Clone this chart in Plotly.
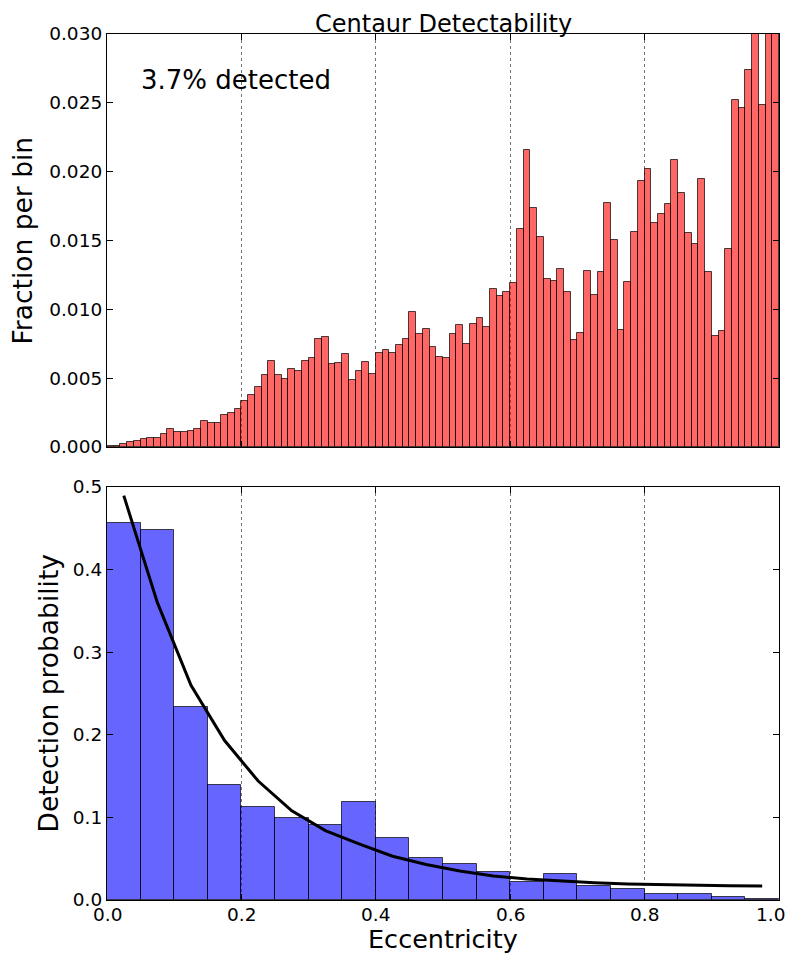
import plotly.graph_objects as go

# ---- data ----
# top histogram: fraction per bin, 100 bins of width 0.01 on [0, 1]
frac_bin_left = [i / 100 for i in range(100)]
frac_values = [
    0.0001, 0.0001, 0.0002, 0.00034, 0.00044, 0.00058, 0.00068, 0.00068, 0.00092, 0.00129,
    0.0011, 0.0011, 0.00119, 0.00129, 0.00187, 0.00172, 0.00172, 0.00233, 0.0025, 0.00274,
    0.00337, 0.0038, 0.00438, 0.00523, 0.00628, 0.00523, 0.00492, 0.00569, 0.0055, 0.00628,
    0.00645, 0.00783, 0.008, 0.006, 0.0061, 0.00678, 0.0049, 0.0055, 0.00618, 0.00533,
    0.00686, 0.00705, 0.00686, 0.0074, 0.00783, 0.00984, 0.00824, 0.0086, 0.00729, 0.00654,
    0.00645, 0.00824, 0.00885, 0.00749, 0.00894, 0.00938, 0.0087, 0.01146, 0.01096, 0.01129,
    0.0119, 0.01585, 0.02154, 0.01733, 0.01525, 0.01221, 0.01207, 0.01292, 0.01129, 0.00776,
    0.00829, 0.01282, 0.01105, 0.01274, 0.01769, 0.01502, 0.00853, 0.012, 0.01561, 0.01932,
    0.02023, 0.01629, 0.01689, 0.01767, 0.02087, 0.01844, 0.01553, 0.01476, 0.01948, 0.01274,
    0.00809, 0.00846, 0.0144, 0.02523, 0.02462, 0.02741, 0.0345, 0.02484, 0.038, 0.042,
]

# bottom histogram: detection probability, 20 bins of width 0.05
prob_bin_left = [i * 0.05 for i in range(20)]
prob_values = [
    0.457, 0.448, 0.2335, 0.1387, 0.1129, 0.0996, 0.0911, 0.119, 0.0754, 0.0512,
    0.044, 0.0335, 0.0222, 0.031, 0.0165, 0.0137, 0.0069, 0.0069, 0.004, 0.001,
]

# smooth fit curve evaluated at bin centres
curve_x = [0.025 + i * 0.05 for i in range(20)]
curve_y = [
    0.4895, 0.36, 0.26, 0.193, 0.144, 0.108, 0.084, 0.068, 0.053, 0.043,
    0.035, 0.029, 0.0254, 0.023, 0.021, 0.0194, 0.0185, 0.0177, 0.0172, 0.0169,
]

# eccentricity tick labels (shared by both panels; shown on the lower one)
x_tick_vals = [0.0, 0.2, 0.4, 0.6, 0.8, 1.0]
x_tick_text = ["0.0", "0.2", "0.4", "0.6", "0.8", "1.0"]

detected_label = "3.7% detected"
title_text = "Centaur Detectability"

# ---- figure ----
FONT = "DejaVu Sans"
TICK_SIZE = 18.5
fig = go.Figure()

fig.add_trace(go.Bar(
    x=[b + 0.005 for b in frac_bin_left], y=frac_values, width=0.01,
    marker=dict(color="rgba(255,0,0,0.6)", line=dict(color="rgba(0,0,0,0.7)", width=1)),
    xaxis="x", yaxis="y", showlegend=False,
))
fig.add_trace(go.Bar(
    x=[b + 0.025 for b in prob_bin_left], y=prob_values, width=0.05,
    marker=dict(color="rgba(0,0,255,0.6)", line=dict(color="rgba(0,0,0,0.7)", width=1)),
    xaxis="x2", yaxis="y2", showlegend=False,
))
fig.add_trace(go.Scatter(
    x=curve_x, y=curve_y, mode="lines",
    line=dict(color="black", width=3),
    xaxis="x2", yaxis="y2", showlegend=False,
))

axis_common = dict(
    showline=True, linecolor="black", linewidth=1.2, mirror="ticks",
    ticks="inside", ticklen=6, tickcolor="black", zeroline=False,
    automargin=False,
    tickfont=dict(family=FONT, size=TICK_SIZE, color="black"),
)

H_PLOT = 866
top_dom = [(413 + 40) / H_PLOT, 1.0]
bot_dom = [0.0, 413 / H_PLOT]

# the page body adds an 8px margin; figure sized so plot areas land at
# x 107..779, y 34..447 and 487..900 of the 795x964 window
fig.update_layout(
    width=779, height=948,
    margin=dict(l=99, r=8, t=26, b=56, autoexpand=False),
    paper_bgcolor="white", plot_bgcolor="white",
    bargap=0,
    font=dict(family=FONT, color="black"),
    xaxis=dict(domain=[0, 1], range=[0, 1], anchor="y", tickvals=x_tick_vals,
               showticklabels=False, showgrid=True, gridcolor="rgba(0,0,0,0.55)",
               griddash="dot", gridwidth=1, **axis_common),
    yaxis=dict(domain=top_dom, range=[0, 0.030], anchor="x", dtick=0.005,
               tickformat=".3f", showgrid=False, **axis_common),
    xaxis2=dict(domain=[0, 1], range=[0, 1], anchor="y2", tickvals=x_tick_vals,
                showticklabels=False, showgrid=True, gridcolor="rgba(0,0,0,0.55)",
                griddash="dot", gridwidth=1, **axis_common),
    yaxis2=dict(domain=bot_dom, range=[0, 0.5], anchor="x2", dtick=0.1,
                tickformat=".1f", showgrid=False, **axis_common),
)

# lower-panel x tick labels, placed at the tick values through the x2 scale
for v, t in zip(x_tick_vals, x_tick_text):
    last = v == x_tick_vals[-1]
    fig.add_annotation(
        text=t, xref="x2", yref="paper", x=v, y=0,
        xanchor="right" if last else "center", xshift=8 if last else 0,
        yanchor="top", yshift=-2, showarrow=False,
        font=dict(family=FONT, size=TICK_SIZE, color="black"),
    )

fig.add_annotation(text=title_text, xref="paper", yref="paper", x=0.5, y=1.0,
                   xanchor="center", yanchor="top", yshift=26, showarrow=False,
                   font=dict(family=FONT, size=24, color="black"))
fig.add_annotation(text=detected_label, xref="x", yref="y", x=0.047, y=0.02665,
                   xanchor="left", yanchor="middle", showarrow=False,
                   font=dict(family=FONT, size=26, color="black"))
fig.add_annotation(text="Fraction per bin", xref="paper", yref="paper",
                   x=(22 - 107) / 672, y=(top_dom[0] + top_dom[1]) / 2,
                   xanchor="center", yanchor="middle", textangle=-90, showarrow=False,
                   font=dict(family=FONT, size=26.5, color="black"))
fig.add_annotation(text="Detection probability", xref="paper", yref="paper",
                   x=(48 - 107) / 672, y=(bot_dom[0] + bot_dom[1]) / 2,
                   xanchor="center", yanchor="middle", textangle=-90, showarrow=False,
                   font=dict(family=FONT, size=26.5, color="black"))
fig.add_annotation(text="Eccentricity", xref="paper", yref="paper",
                   x=0.5, y=0, yshift=-56, xanchor="center", yanchor="bottom",
                   showarrow=False, font=dict(family=FONT, size=25.5, color="black"))

fig.write_html("out.html")
